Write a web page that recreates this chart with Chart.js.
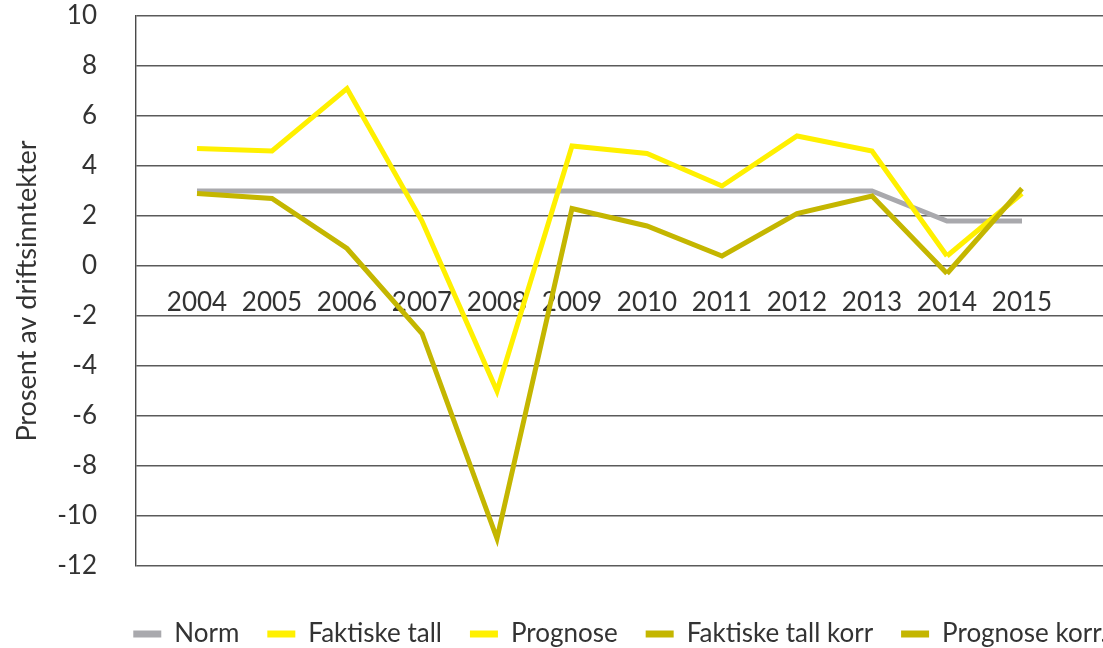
<!DOCTYPE html>
<html>
<head>
<meta charset="utf-8">
<script src="https://cdn.jsdelivr.net/npm/chart.js@4"></script>
<style>
  html, body { margin: 0; padding: 0; background: #fff; }
  #wrap { width: 1103px; height: 648px; overflow: hidden; position: relative; }
  #chart { position: absolute; left: 0; top: 0; }
</style>
</head>
<body>
<div id="wrap"><canvas id="chart" width="1240" height="657"></canvas></div>
<script>
// values
const years = [2004, 2005, 2006, 2007, 2008, 2009, 2010, 2011, 2012, 2013, 2014, 2015];
const norm = [3.0, 3.0, 3.0, 3.0, 3.0, 3.0, 3.0, 3.0, 3.0, 3.0, 1.8, 1.8];
const faktiskeTall = [4.7, 4.6, 7.1, 1.8, -5.0, 4.8, 4.5, 3.2, 5.2, 4.6, 0.4, null];
const prognose = [null, null, null, null, null, null, null, null, null, null, 0.4, 2.9];
const faktiskeTallKorr = [2.9, 2.7, 0.7, -2.7, -10.9, 2.3, 1.6, 0.4, 2.1, 2.8, -0.3, null];
const prognoseKorr = [null, null, null, null, null, null, null, null, null, null, -0.3, 3.1];
const yTicks = [10, 8, 6, 4, 2, 0, -2, -4, -6, -8, -10, -12];

const YELLOW = "#fff000";
const OLIVE = "#c4b600";
const GREY = "#a9a9ad";
const TEXT = "#333333";
const FONT = "Lato";

const points = vals => years.map((y, i) => ({ x: y, y: vals[i] }));

const line = (label, vals, color, order) => ({
  label: label,
  data: points(vals),
  borderColor: color,
  backgroundColor: color,
  borderWidth: 5,
  pointRadius: 0,
  tension: 0,
  fill: false,
  order: order
});

new Chart(document.getElementById("chart").getContext("2d"), {
  type: "line",
  data: {
    datasets: [
      line("Norm", norm, GREY, 5),
      line("Faktiske tall", faktiskeTall, YELLOW, 4),
      line("Prognose", prognose, YELLOW, 3),
      line("Faktiske tall korr", faktiskeTallKorr, OLIVE, 2),
      line("Prognose korr.", prognoseKorr, OLIVE, 1)
    ]
  },
  options: {
    responsive: false,
    animation: false,
    layout: { padding: { top: 16, left: 0, right: 0, bottom: 0 } },
    plugins: {
      tooltip: { enabled: false },
      legend: {
        position: "bottom",
        title: { display: true, text: " ", font: { size: 10 }, padding: { top: 8, bottom: 7 } },
        labels: {
          color: TEXT,
          font: { family: FONT, size: 26 },
          boxWidth: 28,
          boxHeight: 7,
          padding: 28,
          sort: (a, b) => a.datasetIndex - b.datasetIndex,
          generateLabels: chart =>
            Chart.defaults.plugins.legend.labels.generateLabels(chart).map(l => ({
              ...l, fillStyle: l.strokeStyle, lineWidth: 0
            }))
        }
      }
    },
    scales: {
      x: {
        type: "linear",
        position: { y: 0 },
        min: 2004 - 61 / 75,
        max: 2004 - 61 / 75 + 1104 / 75,
        grid: { display: false },
        border: { display: false },
        afterBuildTicks: s => { s.ticks = years.map(v => ({ value: v })); },
        afterFit: s => { s.paddingLeft = 0; s.paddingRight = 0; },
        ticks: {
          color: TEXT,
          font: { family: FONT, size: 26 },
          padding: 13,
          maxRotation: 0,
          autoSkip: false,
          callback: v => String(v)
        }
      },
      y: {
        min: -12,
        max: 10,
        afterBuildTicks: s => { s.ticks = yTicks.map(v => ({ value: v })); },
        afterFit: s => { s.width = 136; s.paddingTop = 0; s.paddingBottom = 0; },
        grid: { color: "#5a5a5a", lineWidth: 1.4, drawTicks: false },
        border: { display: true, color: "#4a4a4a", width: 1.4 },
        ticks: {
          color: TEXT,
          font: { family: FONT, size: 26 },
          padding: 39
        },
        title: {
          display: true,
          text: "Prosent av driftsinntekter",
          color: TEXT,
          font: { family: FONT, size: 27 },
          padding: { top: 11, bottom: 0 }
        }
      }
    }
  }
});
</script>
</body>
</html>
